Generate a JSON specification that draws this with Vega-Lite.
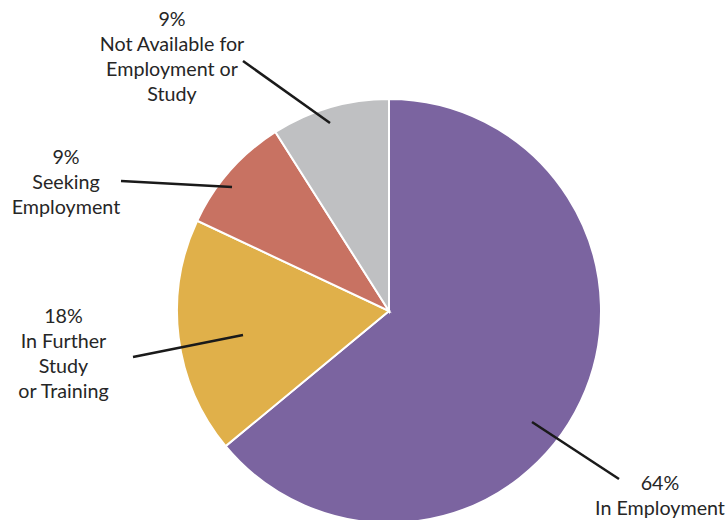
{
  "$schema": "https://vega.github.io/schema/vega-lite/v6.json",
  "width": 424,
  "height": 418,
  "autosize": {"type": "none"},
  "padding": {"left": 177, "top": 102, "right": 127, "bottom": 0},
  "background": "white",
  "datasets": {
    "slices": [
      {"category": "In Employment", "value": 64, "order": 1},
      {"category": "In Further Study or Training", "value": 18, "order": 2},
      {"category": "Seeking Employment", "value": 9, "order": 3},
      {"category": "Not Available for Employment or Study", "value": 9, "order": 4}
    ],
    "leaders": [
      {"category": "In Employment", "u1": 0.6745, "v1": -0.5236, "u2": 1.0849, "v2": -0.7925},
      {"category": "In Further Study or Training", "u1": -0.6887, "v1": -0.1132, "u2": -1.2075, "v2": -0.2170},
      {"category": "Seeking Employment", "u1": -0.7406, "v1": 0.5849, "u2": -1.2642, "v2": 0.6132},
      {"category": "Not Available for Employment or Study", "u1": -0.2783, "v1": 0.8868, "u2": -0.6887, "v2": 1.1792}
    ],
    "labels": [
      {"label": "64%\nIn Employment", "u": 1.2783, "v": -0.8160},
      {"label": "18%\nIn Further\nStudy\nor Training", "u": -1.5354, "v": -0.0283},
      {"label": "9%\nSeeking\nEmployment", "u": -1.5236, "v": 0.7217},
      {"label": "9%\nNot Available for\nEmployment or\nStudy", "u": -1.0236, "v": 1.3726}
    ]
  },
  "layer": [
    {
      "data": {"name": "slices"},
      "mark": {"type": "arc", "outerRadius": 212, "stroke": "white", "strokeWidth": 2},
      "encoding": {
        "theta": {"field": "value", "type": "quantitative", "stack": true},
        "color": {
          "field": "category",
          "type": "nominal",
          "scale": {
            "domain": ["In Employment", "In Further Study or Training", "Seeking Employment", "Not Available for Employment or Study"],
            "range": ["#7B64A0", "#E0B04A", "#C87262", "#BFC0C2"]
          },
          "legend": null
        },
        "order": {"field": "order", "type": "quantitative"}
      }
    },
    {
      "data": {"name": "leaders"},
      "mark": {"type": "rule", "color": "#1a1a1a", "strokeWidth": 2.5},
      "encoding": {
        "x": {"field": "u1", "type": "quantitative", "scale": {"domain": [-1, 1], "nice": false, "zero": false}, "axis": null},
        "y": {"field": "v1", "type": "quantitative", "scale": {"domain": [-0.98585, 0.98585], "nice": false, "zero": false}, "axis": null},
        "x2": {"field": "u2"},
        "y2": {"field": "v2"}
      }
    },
    {
      "data": {"name": "labels"},
      "mark": {"type": "text", "font": "Lato", "fontSize": 19.7, "lineHeight": 25, "lineBreak": "\n", "align": "center", "baseline": "middle", "color": "#262626"},
      "encoding": {
        "x": {"field": "u", "type": "quantitative", "scale": {"domain": [-1, 1], "nice": false, "zero": false}, "axis": null},
        "y": {"field": "v", "type": "quantitative", "scale": {"domain": [-0.98585, 0.98585], "nice": false, "zero": false}, "axis": null},
        "text": {"field": "label", "type": "nominal"}
      }
    }
  ],
  "config": {"view": {"stroke": null}}
}
